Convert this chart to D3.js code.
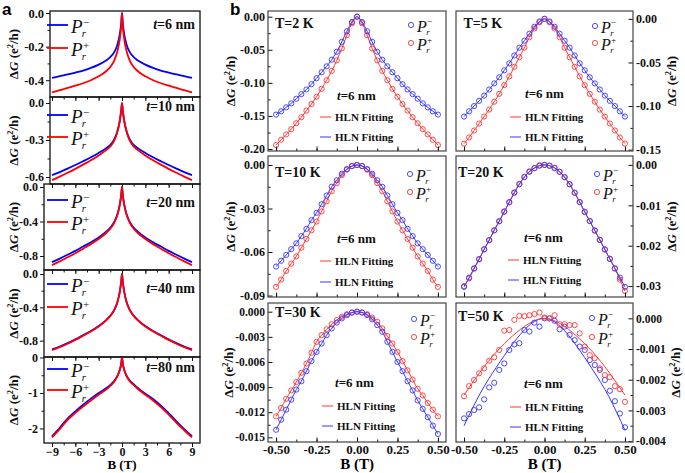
<!DOCTYPE html>
<html><head><meta charset="utf-8">
<script src="https://cdn.jsdelivr.net/npm/d3@7"></script>
<style>body{margin:0;background:#fff}</style>
</head><body><script>
// ---------------- DATA ----------------
// Panel a : magnetic field (T)
const aB = [-9,-8,-7,-6,-5,-4,-3,-2,-1.5,-1,-0.6,-0.3,-0.1,0,0.1,0.3,0.6,1,1.5,2,3,4,5,6,7,8,9];
const aThick = [6,10,20,40,80];
const a6Minus  = [-0.386,-0.376,-0.366,-0.355,-0.343,-0.327,-0.307,-0.281,-0.262,-0.233,-0.19,-0.13,-0.06,0,-0.06,-0.13,-0.19,-0.233,-0.262,-0.281,-0.307,-0.327,-0.343,-0.355,-0.366,-0.376,-0.386];
const a6Plus   = [-0.473,-0.459,-0.446,-0.432,-0.418,-0.4,-0.377,-0.345,-0.321,-0.283,-0.229,-0.16,-0.075,0,-0.075,-0.16,-0.229,-0.283,-0.321,-0.345,-0.377,-0.4,-0.418,-0.432,-0.446,-0.459,-0.473];
const a10Minus = [-0.585,-0.56,-0.532,-0.503,-0.472,-0.44,-0.405,-0.365,-0.34,-0.295,-0.23,-0.15,-0.06,0,-0.06,-0.15,-0.23,-0.295,-0.34,-0.365,-0.405,-0.44,-0.472,-0.503,-0.532,-0.56,-0.585];
const a10Plus  = [-0.626,-0.597,-0.566,-0.534,-0.5,-0.465,-0.425,-0.38,-0.353,-0.305,-0.235,-0.152,-0.06,0,-0.06,-0.152,-0.235,-0.305,-0.353,-0.38,-0.425,-0.465,-0.5,-0.534,-0.566,-0.597,-0.626];
const a20Minus = [-0.87,-0.83,-0.785,-0.74,-0.69,-0.64,-0.585,-0.515,-0.47,-0.405,-0.32,-0.21,-0.09,0,-0.09,-0.21,-0.32,-0.405,-0.47,-0.515,-0.585,-0.64,-0.69,-0.74,-0.785,-0.83,-0.87];
const a20Plus  = [-0.905,-0.862,-0.815,-0.768,-0.715,-0.662,-0.603,-0.53,-0.483,-0.415,-0.325,-0.212,-0.09,0,-0.09,-0.212,-0.325,-0.415,-0.483,-0.53,-0.603,-0.662,-0.715,-0.768,-0.815,-0.862,-0.905];
const a40Minus = [-0.905,-0.87,-0.83,-0.785,-0.735,-0.685,-0.625,-0.55,-0.5,-0.43,-0.34,-0.22,-0.09,0,-0.09,-0.22,-0.34,-0.43,-0.5,-0.55,-0.625,-0.685,-0.735,-0.785,-0.83,-0.87,-0.905];
const a40Plus  = [-0.915,-0.878,-0.837,-0.791,-0.741,-0.69,-0.63,-0.553,-0.503,-0.433,-0.342,-0.221,-0.09,0,-0.09,-0.221,-0.342,-0.433,-0.503,-0.553,-0.63,-0.69,-0.741,-0.791,-0.837,-0.878,-0.915];
const a80Minus = [-2.22,-1.98,-1.72,-1.52,-1.33,-1.16,-1.0,-0.86,-0.77,-0.66,-0.52,-0.36,-0.17,0,-0.17,-0.36,-0.52,-0.65,-0.75,-0.85,-1.02,-1.17,-1.36,-1.57,-1.8,-2.02,-2.22];
const a80Plus  = [-2.25,-2.02,-1.76,-1.56,-1.38,-1.21,-1.05,-0.9,-0.8,-0.68,-0.53,-0.36,-0.17,0,-0.17,-0.36,-0.53,-0.67,-0.78,-0.88,-1.05,-1.21,-1.4,-1.61,-1.84,-2.05,-2.25];
const aXTicks = [-9,-6,-3,0,3,6,9];

// Panel b : magnetic field (T)
const bB = [-0.5,-0.46875,-0.4375,-0.40625,-0.375,-0.34375,-0.3125,-0.28125,-0.25,-0.21875,-0.1875,-0.15625,-0.125,-0.09375,-0.0625,-0.03125,0,0.03125,0.0625,0.09375,0.125,0.15625,0.1875,0.21875,0.25,0.28125,0.3125,0.34375,0.375,0.40625,0.4375,0.46875,0.5];
const bTemps = ['T=2 K','T=5 K','T=10 K','T=20 K','T=30 K','T=50 K'];
const T2Minus  = [-0.148,-0.143,-0.137,-0.131,-0.124,-0.117,-0.110,-0.102,-0.093,-0.084,-0.075,-0.065,-0.053,-0.038,-0.022,-0.008,0,-0.008,-0.022,-0.038,-0.053,-0.065,-0.075,-0.084,-0.093,-0.102,-0.110,-0.117,-0.124,-0.131,-0.137,-0.143,-0.148];
const T2Plus   = [-0.194,-0.186,-0.178,-0.170,-0.161,-0.152,-0.142,-0.132,-0.121,-0.109,-0.096,-0.082,-0.066,-0.048,-0.028,-0.010,0,-0.010,-0.028,-0.048,-0.066,-0.082,-0.096,-0.109,-0.121,-0.132,-0.142,-0.152,-0.161,-0.170,-0.178,-0.186,-0.194];
const T5Minus  = [-0.112,-0.106,-0.100,-0.094,-0.088,-0.081,-0.074,-0.067,-0.059,-0.051,-0.042,-0.033,-0.025,-0.017,-0.009,-0.003,0,-0.003,-0.009,-0.017,-0.025,-0.033,-0.042,-0.051,-0.059,-0.067,-0.074,-0.081,-0.088,-0.094,-0.100,-0.106,-0.112];
const T5Plus   = [-0.143,-0.136,-0.128,-0.120,-0.112,-0.104,-0.095,-0.086,-0.076,-0.066,-0.055,-0.044,-0.033,-0.021,-0.011,-0.004,0,-0.004,-0.011,-0.021,-0.033,-0.044,-0.055,-0.066,-0.076,-0.086,-0.095,-0.104,-0.112,-0.120,-0.128,-0.136,-0.143];
const T10Minus = [-0.070,-0.066,-0.062,-0.058,-0.054,-0.049,-0.044,-0.038,-0.033,-0.027,-0.021,-0.015,-0.0105,-0.006,-0.0028,-0.0007,0,-0.0007,-0.0028,-0.006,-0.0105,-0.015,-0.021,-0.027,-0.033,-0.038,-0.044,-0.049,-0.054,-0.058,-0.062,-0.066,-0.070];
const T10Plus  = [-0.084,-0.079,-0.073,-0.068,-0.063,-0.057,-0.051,-0.045,-0.039,-0.032,-0.025,-0.018,-0.0125,-0.007,-0.0032,-0.0008,0,-0.0008,-0.0032,-0.007,-0.0125,-0.018,-0.025,-0.032,-0.039,-0.045,-0.051,-0.057,-0.063,-0.068,-0.073,-0.079,-0.084];
const T20Minus = [-0.0302,-0.0279,-0.0256,-0.0233,-0.0209,-0.0186,-0.0162,-0.0139,-0.0116,-0.0092,-0.0069,-0.0048,-0.0030,-0.0017,-0.0008,-0.0002,0,-0.0002,-0.0008,-0.0017,-0.0030,-0.0048,-0.0069,-0.0092,-0.0116,-0.0139,-0.0162,-0.0186,-0.0209,-0.0233,-0.0256,-0.0279,-0.0302];
const T20Plus  = [-0.0300,-0.0281,-0.0257,-0.0234,-0.0209,-0.0187,-0.0162,-0.0140,-0.0115,-0.0093,-0.0068,-0.0047,-0.0030,-0.0016,-0.0008,-0.0001,0,-0.0002,-0.0007,-0.0017,-0.0031,-0.0048,-0.0069,-0.0092,-0.0117,-0.0139,-0.0163,-0.0185,-0.0210,-0.0232,-0.0257,-0.0284,-0.0312];
const T30Minus = [-0.0141,-0.0129,-0.0117,-0.0105,-0.0093,-0.0083,-0.0071,-0.0059,-0.0048,-0.0038,-0.0028,-0.0020,-0.0013,-0.0008,-0.0004,-0.0001,0,-0.0001,-0.0004,-0.0009,-0.0016,-0.0024,-0.0036,-0.0048,-0.0060,-0.0071,-0.0083,-0.0094,-0.0106,-0.0116,-0.0126,-0.0136,-0.0146];
const T30Plus  = [-0.0125,-0.0115,-0.0104,-0.0094,-0.0084,-0.0073,-0.0062,-0.0049,-0.0036,-0.0028,-0.0021,-0.0015,-0.0010,-0.0006,-0.0003,-0.0001,0,-0.0001,-0.0003,-0.0007,-0.0012,-0.0020,-0.0029,-0.0038,-0.0048,-0.0059,-0.0070,-0.0081,-0.0092,-0.0100,-0.0109,-0.0117,-0.0125];
const T50Minus = [-0.00326,-0.00312,-0.00299,-0.00290,-0.00264,-0.00225,-0.00210,-0.00168,-0.00147,-0.00103,-0.00085,-0.00081,-0.00038,-0.00043,-0.00014,-0.00027,0,0,-0.00008,-0.00036,-0.00027,-0.00054,-0.00071,-0.00092,-0.00103,-0.00136,-0.00152,-0.00168,-0.00201,-0.00236,-0.00270,-0.00310,-0.00355];
const T50Plus  = [-0.00254,-0.00221,-0.00201,-0.00179,-0.00163,-0.00138,-0.00127,-0.00103,-0.00040,-0.00038,-0.00005,0.00008,0.00007,0.00010,0.00014,0.00019,0.00003,0,0.00010,-0.00019,-0.00019,-0.00022,-0.00022,-0.00049,-0.00092,-0.00120,-0.00130,-0.00163,-0.00185,-0.00192,-0.00221,-0.00231,-0.00272];
// HLN fits at T=50 K
const fitB = [-0.5,-0.4,-0.3,-0.2,-0.1,0,0.1,0.2,0.3,0.4,0.5];
const fit50Minus = [-0.00350,-0.00245,-0.00160,-0.00085,-0.00025,0,-0.00027,-0.00090,-0.00168,-0.00255,-0.00365];
const fit50Plus  = [-0.00250,-0.00175,-0.00110,-0.00058,-0.00018,0,-0.00018,-0.00058,-0.00110,-0.00175,-0.00250];
const bXTicks = [-0.5,-0.25,0,0.25,0.5];

// ---------------- DRAWING ----------------
const SERIF = '"Liberation Serif","Times New Roman",serif';
const SANS = '"Liberation Sans",Arial,sans-serif';
const svg = d3.select('body').append('svg').attr('width',685).attr('height',473).style('display','block');
const hy = f => { const g = d3.format(f); return d => g(d).replace('\u2212','-'); };

function yTitle(x, cy, size){
  const t = svg.append('text').attr('transform',`translate(${x},${cy}) rotate(-90)`).attr('text-anchor','middle')
    .attr('font-family',SERIF).attr('font-weight','bold').attr('font-size',size).attr('fill','#111');
  t.append('tspan').text('\u0394');
  t.append('tspan').attr('font-style','italic').text('G');
  t.append('tspan').text(' (e');
  t.append('tspan').attr('dy',-size*0.4).attr('font-size',size*0.65).text('2');
  t.append('tspan').attr('dy',size*0.4).text('/h)');
}
function pSym(x, y, sign, size){
  const P = svg.append('text').attr('x',x).attr('y',y).attr('font-family',SERIF).attr('font-style','italic').attr('font-size',size).attr('fill','#111').text('P');
  const w = P.node().getComputedTextLength();
  svg.append('text').attr('x',x+w-size*0.04).attr('y',y+size*0.2).attr('font-family',SERIF).attr('font-style','italic').attr('font-size',size*0.56).attr('fill','#111').text('r');
  svg.append('text').attr('x',x+w+size*0.02).attr('y',y-size*0.38).attr('font-family',SERIF).attr('font-size',size*0.58).attr('fill','#111').text(sign>0?'+':'\u2212');
}
function styleAxis(g, fs){
  g.select('.domain').remove();
  g.selectAll('line').attr('stroke','#111').attr('stroke-width',1);
  g.selectAll('text').attr('font-family',SERIF).attr('font-weight','bold').attr('font-size',fs).attr('fill','#111');
}

// ---- Panel a ----
const aSeries = [[a6Minus,a6Plus],[a10Minus,a10Plus],[a20Minus,a20Plus],[a40Minus,a40Plus],[a80Minus,a80Plus]];
const aLay = [
  {top:11, bot:97, left:50, dom:[-0.5,0.012],  ticks:[0,-0.2,-0.4], minor:[-0.1,-0.3], fmt:'.1f', fs:12.5, leg:[14,37], lab:18},
  {top:97, bot:184,left:50, dom:[-0.657,0.049],ticks:[0,-0.3,-0.6], minor:[-0.15,-0.45], fmt:'.1f', fs:12, leg:[18,40], lab:14},
  {top:184,bot:270,left:44, dom:[-0.962,0.035],ticks:[0,-0.4,-0.8], minor:[-0.2,-0.6], fmt:'.1f', fs:12, leg:[16,38], lab:23},
  {top:270,bot:357,left:44, dom:[-0.996,0.048],ticks:[0,-0.4,-0.8], minor:[-0.2,-0.6], fmt:'.1f', fs:12, leg:[14,37], lab:23},
  {top:357,bot:443,left:44, dom:[-2.41,0.014], ticks:[0,-1,-2], minor:[-0.5,-1.5], fmt:'d', fs:12, leg:[12,33], lab:15}
];
const ax = d3.scaleLinear().domain([-9,9]).range([52,192]);
const aXMinor = d3.range(-9,9.01,1.5);
aLay.forEach((L,i)=>{
  const y = d3.scaleLinear().domain(L.dom).range([L.bot,L.top]);
  const line = d3.line().x((d,j)=>ax(aB[j])).y(d=>y(d)).curve(d3.curveMonotoneX);
  svg.append('path').attr('d',line(aSeries[i][0])).attr('fill','none').attr('stroke','#0000ff').attr('stroke-width',1.8);
  svg.append('path').attr('d',line(aSeries[i][1])).attr('fill','none').attr('stroke','#ff0000').attr('stroke-width',1.8);
  const gy = svg.append('g').attr('transform',`translate(${L.left},0)`).call(d3.axisLeft(y).tickValues(L.ticks).tickSize(4).tickPadding(2).tickFormat(hy(L.fmt)));
  styleAxis(gy, L.fs);
  const gym = svg.append('g').attr('transform',`translate(${L.left},0)`).call(d3.axisLeft(y).tickValues(L.minor).tickSize(2.5).tickFormat(''));
  styleAxis(gym, L.fs);
  const last = i===aLay.length-1;
  const gx = svg.append('g').attr('transform',`translate(0,${L.bot})`).call(d3.axisBottom(ax).tickValues(aXTicks).tickSize(4).tickPadding(0).tickFormat(last?d3.format('d'):''));
  styleAxis(gx, 12);
  const gxm = svg.append('g').attr('transform',`translate(0,${L.bot})`).call(d3.axisBottom(ax).tickValues(aXMinor).tickSize(2.5).tickFormat(''));
  styleAxis(gxm, 12);
  svg.append('rect').attr('x',L.left).attr('y',L.top).attr('width',200-L.left).attr('height',L.bot-L.top).attr('fill','none').attr('stroke','#111').attr('stroke-width',1.3);
  [['#0000ff',-1],['#ff0000',1]].forEach((c,k)=>{
    const ly = L.top + L.leg[k];
    svg.append('line').attr('x1',47).attr('x2',68).attr('y1',ly).attr('y2',ly).attr('stroke',c[0]).attr('stroke-width',1.8);
    pSym(71, ly+8, c[1], 19);
  });
  const t = svg.append('text').attr('x',195).attr('y',L.top+L.lab).attr('text-anchor','end').attr('font-family',SERIF).attr('font-weight','bold').attr('font-size',14).attr('fill','#111');
  t.append('tspan').attr('font-style','italic').text('t');
  t.append('tspan').text(`=${aThick[i]} nm`);
  yTitle(18, (L.top+L.bot)/2, 13);
});
svg.append('text').attr('x',122).attr('y',469).attr('text-anchor','middle').attr('font-family',SERIF).attr('font-weight','bold').attr('font-size',13).text('B (T)');
svg.append('text').attr('x',2).attr('y',15).attr('font-family',SANS).attr('font-weight','bold').attr('font-size',17).text('a');
svg.append('text').attr('x',230).attr('y',15).attr('font-family',SANS).attr('font-weight','bold').attr('font-size',17).text('b');

// ---- Panel b ----
const bSeries = [[T2Minus,T2Plus],[T5Minus,T5Plus],[T10Minus,T10Plus],[T20Minus,T20Plus],[T30Minus,T30Plus],[T50Minus,T50Plus]];
const bLay = [
  {x0:268,x1:446,y0:11, y1:151,side:'l',dom:[-0.203,0.0086],  ticks:[0,-0.05,-0.1,-0.15,-0.2], fmt:'.2f', fs:12, tit:235, tx:7,  ty:17, lx:143, ly:[14,32], nx:69, ny:89, hx:52, hy:[106,126]},
  {x0:456,x1:633,y0:11, y1:151,side:'r',dom:[-0.1515,0.009],  ticks:[0,-0.05,-0.1,-0.15],      fmt:'.2f', fs:12, tit:676, tx:7.5,ty:17, lx:139, ly:[15,32], nx:69, ny:87, hx:54, hy:[106,126]},
  {x0:268,x1:446,y0:156,y1:297,side:'l',dom:[-0.091,0.0062],  ticks:[0,-0.03,-0.06,-0.09],     fmt:'.2f', fs:12, tit:235, tx:7,  ty:21, lx:142, ly:[18,36], nx:69, ny:87, hx:52, hy:[105,126]},
  {x0:456,x1:633,y0:156,y1:297,side:'r',dom:[-0.0327,0.0022], ticks:[0,-0.01,-0.02,-0.03],     fmt:'.2f', fs:12, tit:676, tx:2,  ty:21, lx:141, ly:[18,36], nx:68, ny:86, hx:52, hy:[104,124]},
  {x0:268,x1:446,y0:303,y1:442,side:'l',dom:[-0.01556,0.00104],ticks:[0,-0.003,-0.006,-0.009,-0.012,-0.015], fmt:'.3f', fs:11.5, tit:233, tx:7, ty:14, lx:146, ly:[16,34], nx:67, ny:84, hx:54, hy:[103,123]},
  {x0:456,x1:633,y0:303,y1:442,side:'r',dom:[-0.00403,0.0005],ticks:[0,-0.001,-0.002,-0.003,-0.004], fmt:'.3f', fs:11.5, tit:680, tx:2, ty:18, lx:136, ly:[15,34], nx:68, ny:85, hx:54, hy:[104,124]}
];
const BLUE='#3535ff', RED='#ff3535';
const bXMinor = d3.range(-0.5,0.501,0.125);
bLay.forEach((L,i)=>{
  const x = d3.scaleLinear().domain([-0.55,0.55]).range([L.x0,L.x1]);
  const y = d3.scaleLinear().domain(L.dom).range([L.y1,L.y0]);
  const curve = i===5 ? d3.curveNatural : d3.curveMonotoneX;
  const fitLine = (bx,vals)=> d3.line().x((d,j)=>x(bx[j])).y(d=>y(d)).curve(curve)(vals);
  const fits = i===5 ? [[fitB,fit50Minus],[fitB,fit50Plus]] : [[bB,bSeries[i][0]],[bB,bSeries[i][1]]];
  const cols = [BLUE, RED];
  const order = i===5 ? [0,1] : [1,0];
  order.forEach(k=>{
    svg.append('path').attr('d',fitLine(fits[k][0],fits[k][1])).attr('fill','none').attr('stroke',cols[k]).attr('stroke-width',1);
  });
  order.forEach(k=>{
    svg.append('g').selectAll('circle').data(bSeries[i][k]).join('circle')
      .attr('cx',(d,j)=>x(bB[j])).attr('cy',d=>y(d)).attr('r',2.6)
      .attr('fill','none').attr('stroke',cols[k]).attr('stroke-width',0.9);
  });
  const lastRow = i>=4;
  const gx = svg.append('g').attr('transform',`translate(0,${L.y1})`).call(d3.axisBottom(x).tickValues(bXTicks).tickSize(-4.5).tickPadding(3).tickFormat(lastRow?hy('.2f'):''));
  styleAxis(gx, 13);
  const gxm = svg.append('g').attr('transform',`translate(0,${L.y1})`).call(d3.axisBottom(x).tickValues(bXMinor).tickSize(-2.5).tickFormat(''));
  styleAxis(gxm, 13);
  const minor = L.ticks.slice(0,-1).map((t,j)=>(t+L.ticks[j+1])/2);
  const axF = L.side==='l' ? d3.axisLeft : d3.axisRight;
  const ax0 = L.side==='l' ? L.x0 : L.x1;
  const gy = svg.append('g').attr('transform',`translate(${ax0},0)`).call(axF(y).tickValues(L.ticks).tickSize(-4.5).tickPadding(3).tickFormat(hy(L.fmt)));
  styleAxis(gy, L.fs);
  const gym = svg.append('g').attr('transform',`translate(${ax0},0)`).call(axF(y).tickValues(minor).tickSize(-2.5).tickFormat(''));
  styleAxis(gym, L.fs);
  yTitle(L.tit,(L.y0+L.y1)/2,13);
  svg.append('rect').attr('x',L.x0).attr('y',L.y0).attr('width',L.x1-L.x0).attr('height',L.y1-L.y0).attr('fill','none').attr('stroke','#444').attr('stroke-width',1.2);
  svg.append('text').attr('x',L.x0+L.tx).attr('y',L.y0+L.ty).attr('font-family',SERIF).attr('font-weight','bold').attr('font-size',14).attr('fill','#111').text(bTemps[i]);
  [[BLUE,-1],[RED,1]].forEach((c,k)=>{
    const cy = L.y0+L.ly[k];
    svg.append('circle').attr('cx',L.x0+L.lx).attr('cy',cy).attr('r',2.6).attr('fill','none').attr('stroke',c[0]).attr('stroke-width',0.9);
    pSym(L.x0+L.lx+6, cy+6.5, c[1], 16);
  });
  const t = svg.append('text').attr('x',L.x0+L.nx).attr('y',L.y0+L.ny).attr('font-family',SERIF).attr('font-weight','bold').attr('font-size',13).attr('fill','#111');
  t.append('tspan').attr('font-style','italic').text('t');
  t.append('tspan').text('=6 nm');
  [RED,BLUE].forEach((c,k)=>{
    const hyy = L.y0+L.hy[k];
    svg.append('line').attr('x1',L.x0+L.hx).attr('x2',L.x0+L.hx+11).attr('y1',hyy).attr('y2',hyy).attr('stroke',c).attr('stroke-width',1);
    svg.append('text').attr('x',L.x0+L.hx+15).attr('y',hyy+4).attr('font-family',SERIF).attr('font-weight','bold').attr('font-size',11).attr('fill','#111').text('HLN Fitting');
  });
});
[357,544.5].forEach(cx=>svg.append('text').attr('x',cx).attr('y',469).attr('text-anchor','middle').attr('font-family',SERIF).attr('font-weight','bold').attr('font-size',15).text('B (T)'));
</script></body></html>
